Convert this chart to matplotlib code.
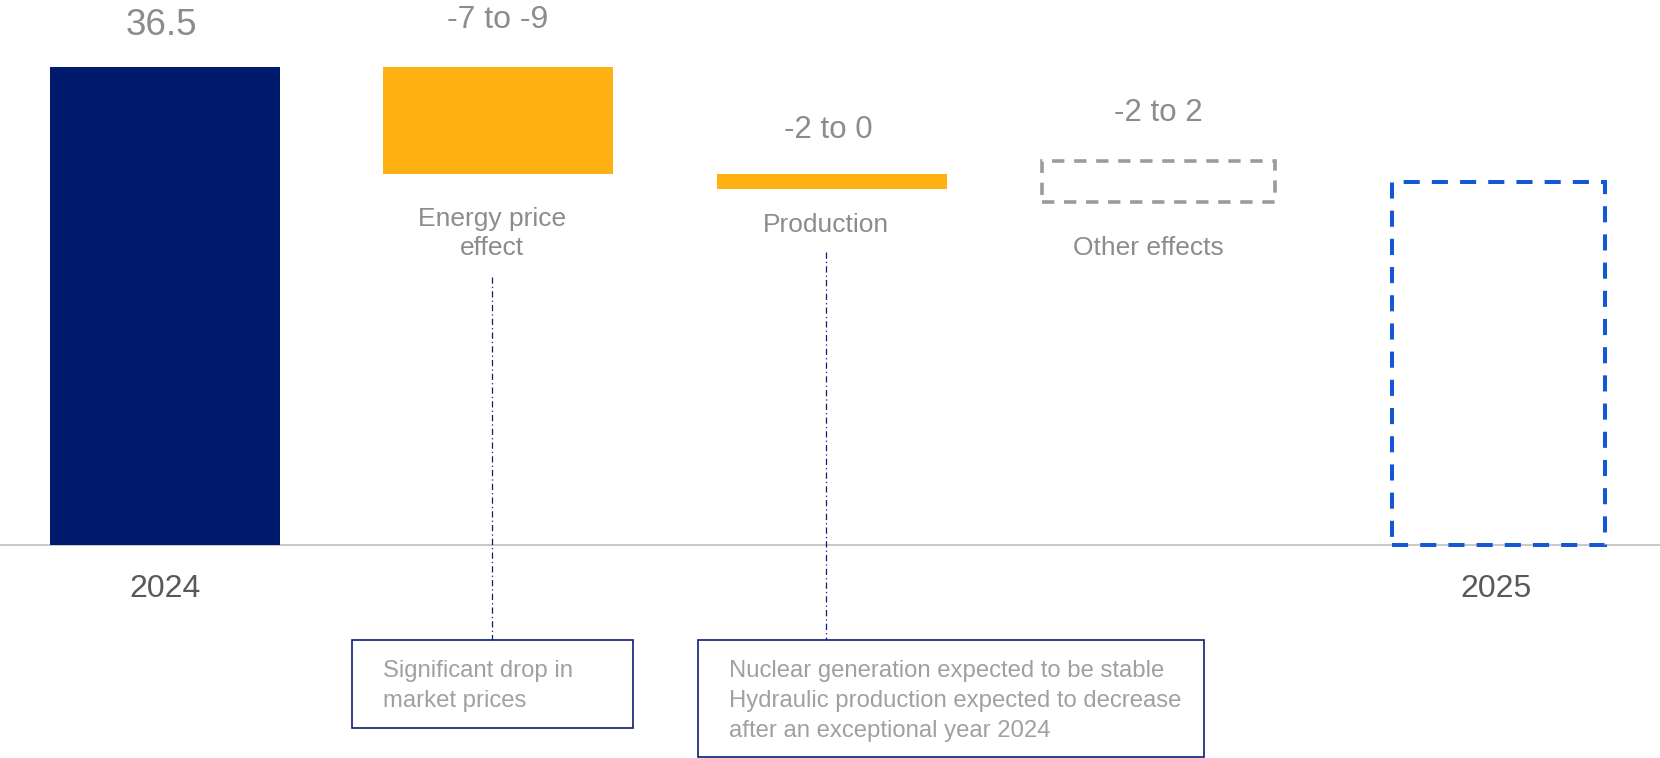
import matplotlib
matplotlib.use("Agg")
import matplotlib.pyplot as plt
from matplotlib.patches import Rectangle
from matplotlib.lines import Line2D

plt.rcParams['font.family'] = ['Liberation Sans', 'DejaVu Sans']

# values (bn), ranges are drawn from their estimated central value
start_value = 36.5
energy_delta = -8.2
production_delta = -1.1
other_low, other_high = -1.0, 2.1
end_value = 27.7

categories = ['2024', 'Energy price\neffect', 'Production', 'Other effects', '2025']
value_labels = ['36.5', '-7 to -9', '-2 to 0', '-2 to 2']
notes = ['Significant drop in\nmarket prices',
         'Nuclear generation expected to be stable\n'
         'Hydraulic production expected to decrease\n'
         'after an exceptional year 2024']

NAVY = '#001a6e'
ORANGE = '#ffb012'
BLUE = '#1558d6'
GREY_BOX = '#9b9b9b'
GREY_TXT = '#8c8c8c'
DARK_TXT = '#595959'
NOTE_TXT = '#a0a0a0'
NOTE_EDGE = '#0d1f73'

W, H = 1660, 758
fig = plt.figure(figsize=(W / 100, H / 100), dpi=100)
ax = fig.add_axes([0, 0, 1, 1])

# pixel layout of the plot area
x0_px, step_px = 164.6, 333.5
base_px, unit_px = 545, 478.3 / 36.5
ax.set_xlim(-x0_px / step_px, (W - x0_px) / step_px)
ax.set_ylim(-(H - base_px) / unit_px, base_px / unit_px)
ax.axis('off')


def fx(px):
    return px / W


def fy(py):
    return 1 - py / H


xpos = [0, 1, 2, 2.98, 4]
width = 0.69

after_energy = start_value + energy_delta
after_prod = after_energy + production_delta

ax.axhline(0, color='#bfbfbf', lw=1.2, zorder=0)

ax.bar(xpos[0], start_value, width=width, color=NAVY, zorder=2)
ax.bar(xpos[1], -energy_delta, bottom=after_energy, width=width, color=ORANGE, zorder=2)
ax.bar(xpos[2], -production_delta, bottom=after_prod, width=width, color=ORANGE, zorder=2)

ax.add_patch(Rectangle((xpos[3] - 0.35, after_prod + other_low), 0.7, other_high - other_low,
                       fill=False, edgecolor=GREY_BOX, lw=2.6, linestyle=(0, (3.4, 2.7)), zorder=2))
ax.add_patch(Rectangle((xpos[4] - 0.32, 0), 0.64, end_value,
                       fill=False, edgecolor=BLUE, lw=2.9, linestyle=(0, (4, 3)), zorder=2))

# value labels above the bars
tops = [start_value, start_value, after_energy, after_prod + other_high]
offsets = [(-2.2, 22.8), (0, 28), (-2.5, 26.1), (0, 28.8)]
sizes = [26.5, 23, 22.5, 22.5]
for i, lab in enumerate(value_labels):
    ax.annotate(lab, (xpos[i], tops[i]), xytext=offsets[i], textcoords='offset points',
                ha='center', va='baseline', fontsize=sizes[i], color=GREY_TXT)


def put_lines(x, y, text, step, **kw):
    for k, line in enumerate(text.split('\n')):
        ax.text(fx(x), fy(y + k * step), line, transform=ax.transAxes,
                va='baseline', **kw)


# category labels
put_lines(165, 597, categories[0], 0, ha='center', fontsize=23, color=DARK_TXT)
put_lines(491.7, 226, categories[1], 29, ha='center', fontsize=19, color=GREY_TXT)
put_lines(826, 231.7, categories[2], 0, ha='center', fontsize=19, color=GREY_TXT)
put_lines(1148.7, 255, categories[3], 0, ha='center', fontsize=19, color=GREY_TXT)
put_lines(1496, 597, categories[4], 0, ha='center', fontsize=23, color=DARK_TXT)

# callout leaders and boxes
for lx, ly in [(492, 277), (826, 252)]:
    ax.add_line(Line2D([fx(lx), fx(lx)], [fy(ly), fy(640)], transform=ax.transAxes,
                       color=NOTE_EDGE, lw=0.9, linestyle=(0, (5, 2.5, 1, 2.5))))

boxes = [(351.5, 640, 632.5, 728.3), (697.5, 640, 1203.7, 756.5)]
for (bx0, by0, bx1, by1) in boxes:
    ax.add_patch(Rectangle((fx(bx0), fy(by1)), fx(bx1) - fx(bx0), fy(by0) - fy(by1),
                           transform=ax.transAxes, fill=False, edgecolor=NOTE_EDGE, lw=1.2))

put_lines(382.7, 677.5, notes[0], 29.7, ha='left', fontsize=17.2, color=NOTE_TXT)
put_lines(729, 677, notes[1], 30, ha='left', fontsize=17.2, color=NOTE_TXT)

fig.savefig('out.png', dpi=100)
